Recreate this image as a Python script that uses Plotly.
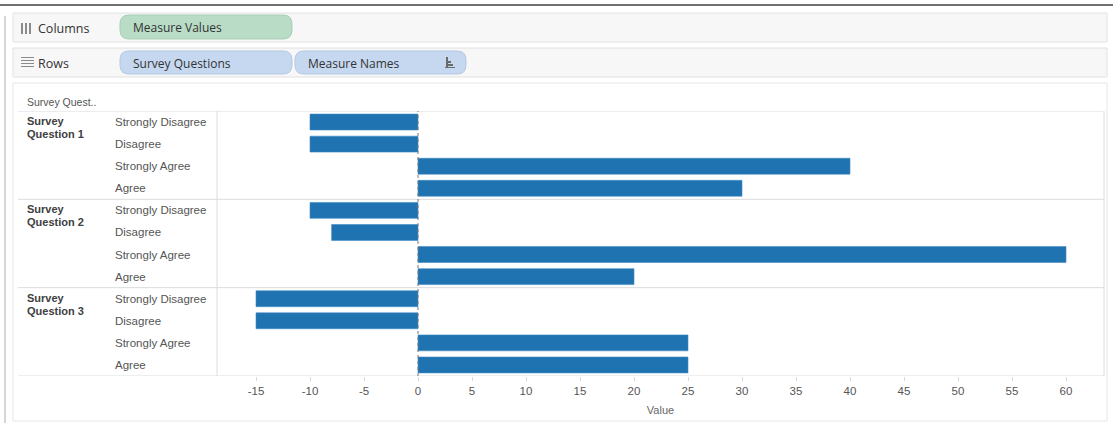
import plotly.graph_objects as go

# ---------------- data ----------------
questions = ["Survey Question 1", "Survey Question 2", "Survey Question 3"]
measures = ["Strongly Disagree", "Disagree", "Strongly Agree", "Agree"]
q1_values = [-10, -10, 40, 30]
q2_values = [-10, -8, 60, 20]
q3_values = [-15, -15, 25, 25]
tick_values = [-15, -10, -5, 0, 5, 10, 15, 20, 25, 30, 35, 40, 45, 50, 55, 60]
tick_labels = [str(v) for v in tick_values]

all_values = [q1_values, q2_values, q3_values]

# ---------------- layout helpers (pixel -> paper) ----------------
W, H = 1113, 423
L, R, T, B = 217, 1104, 111, 376


def px(x):
    return (x - L) / (R - L)


def py(y):
    return (B - y) / (B - T)


def rrect_path(x0, y0, x1, y1, r):
    pts = [
        ("M", [(x0 + r, y0)]),
        ("L", [(x1 - r, y0)]),
        ("Q", [(x1, y0), (x1, y0 + r)]),
        ("L", [(x1, y1 - r)]),
        ("Q", [(x1, y1), (x1 - r, y1)]),
        ("L", [(x0 + r, y1)]),
        ("Q", [(x0, y1), (x0, y1 - r)]),
        ("L", [(x0, y0 + r)]),
        ("Q", [(x0, y0), (x0 + r, y0)]),
    ]
    s = ""
    for cmd, p in pts:
        s += cmd + " " + " ".join(f"{px(a):.5f},{py(b):.5f}" for a, b in p) + " "
    return s + "Z"


shapes = []
annotations = []


def rect(x0, y0, x1, y1, fill, line="rgba(0,0,0,0)", lw=1):
    shapes.append(dict(type="rect", xref="paper", yref="paper",
                       x0=px(x0), x1=px(x1), y0=py(y1), y1=py(y0),
                       fillcolor=fill, line=dict(color=line, width=lw), layer="below"))


def pill(x0, y0, x1, y1, fill, line):
    shapes.append(dict(type="path", xref="paper", yref="paper",
                       path=rrect_path(x0, y0, x1, y1, 9),
                       fillcolor=fill, line=dict(color=line, width=1), layer="below"))


def text(x, y, s, size=12, color="#333", family="Open Sans", xanchor="left", bold=False):
    annotations.append(dict(xref="paper", yref="paper", x=px(x), y=py(y),
                            text=f"<b>{s}</b>" if bold else s, showarrow=False,
                            xanchor=xanchor, yanchor="middle",
                            font=dict(size=size, color=color, family=family)))


# ---------- Tableau frame ----------
shapes.append(dict(type="line", xref="paper", yref="paper", x0=px(0), x1=px(W),
                   y0=py(5), y1=py(5), line=dict(color="#707070", width=2)))
shapes.append(dict(type="line", xref="paper", yref="paper", x0=px(5), x1=px(5),
                   y0=py(16), y1=py(423), line=dict(color="#d6d6d6", width=2)))
rect(13, 13, 1107, 42, "#f7f7f7", "#e2e2e2")
rect(13, 48, 1107, 77, "#f7f7f7", "#e2e2e2")
rect(13, 83, 1107, 421, "#ffffff", "#e6e6e6")

# shelf icons
for i in range(3):
    rect(21 + i * 4, 23, 23 + i * 4, 34, "#8a8a8a")
for i in range(4):
    rect(21, 57 + i * 3, 34, 58 + i * 3, "#8a8a8a")
text(36, 28, "Columns", size=12.5)
text(36, 63, "Rows", size=12.5)

# pills
pill(120, 15, 292, 39, "#b8dcc6", "#a9cdb7")
text(131, 27, "Measure Values", size=12)
pill(120, 51, 292, 74, "#c6d8f0", "#b3c8e4")
text(131, 63, "Survey Questions", size=12)
pill(295, 51, 466, 74, "#c6d8f0", "#b3c8e4")
text(306, 63, "Measure Names", size=12)
# sort icon
rect(446, 57, 448, 67, "#6a6a6a")
rect(448, 61, 451, 63, "#6a6a6a")
rect(448, 64, 453, 66, "#6a6a6a")
rect(445, 67, 455, 68, "#6a6a6a")

# header label
text(25, 102, "Survey Quest..", size=10.5, color="#555", family="Liberation Sans")

# ---------- bars ----------
ys, xs = [], []
for qi, vals in enumerate(all_values):
    for mi, v in enumerate(vals):
        ys.append(qi * len(measures) + mi)
        xs.append(v)

fig = go.Figure(go.Bar(
    x=xs, y=ys, orientation="h", width=0.72,
    marker=dict(color="#1f73b0", line=dict(color="#3f8cc6", width=0.6)),
    hoverinfo="x",
))

n_rows = len(questions) * len(measures)

# row labels
for qi, q in enumerate(questions):
    words = q.rsplit(" ", 2)
    top = qi * len(measures) - 0.5
    annotations.append(dict(xref="paper", yref="y", x=px(25), y=top, yshift=-10,
                            text="<b>Survey</b>", showarrow=False, xanchor="left",
                            yanchor="middle",
                            font=dict(size=11, color="#404040", family="Liberation Sans")))
    annotations.append(dict(xref="paper", yref="y", x=px(25), y=top, yshift=-23,
                            text=f"<b>{words[1]} {words[2]}</b>", showarrow=False,
                            xanchor="left", yanchor="middle",
                            font=dict(size=11, color="#404040", family="Liberation Sans")))
    for mi, m in enumerate(measures):
        annotations.append(dict(xref="paper", yref="y", x=px(113),
                                y=qi * len(measures) + mi, text=m, showarrow=False,
                                xanchor="left", yanchor="middle",
                                font=dict(size=11.5, color="#555", family="Liberation Sans")))
    # separator lines
    shapes.append(dict(type="line", xref="paper", yref="y", x0=px(18), x1=1,
                       y0=top, y1=top, line=dict(color="#dcdcdc", width=1)))
shapes.append(dict(type="line", xref="paper", yref="y", x0=px(18), x1=1,
                   y0=n_rows - 0.5, y1=n_rows - 0.5, line=dict(color="#dcdcdc", width=1)))
# pane left / right edges
shapes.append(dict(type="line", xref="paper", yref="paper", x0=0, x1=0, y0=0, y1=1,
                   line=dict(color="#dcdcdc", width=1)))
shapes.append(dict(type="line", xref="paper", yref="paper", x0=1, x1=1, y0=0, y1=1,
                   line=dict(color="#dcdcdc", width=1)))
# zero line (dotted)
shapes.append(dict(type="line", xref="x", yref="paper", x0=0, x1=0, y0=0, y1=1,
                   line=dict(color="#777", width=1, dash="dot"), layer="above"))

fig.update_layout(
    width=W, height=H,
    margin=dict(l=L, r=W - R, t=T, b=H - B, pad=0),
    paper_bgcolor="white", plot_bgcolor="rgba(0,0,0,0)",
    showlegend=False,
    shapes=shapes, annotations=annotations,
    xaxis=dict(range=[(L - 418) / 10.8, (R - 418) / 10.8],
               tickvals=tick_values, ticktext=tick_labels,
               ticks="outside", ticklen=4, tickcolor="#d8d8d8",
               showgrid=False, zeroline=False, showline=False,
               tickfont=dict(size=11.5, color="#555", family="Liberation Sans"),
               title=dict(text="Value", standoff=10,
                          font=dict(size=11, color="#666", family="Liberation Sans"))),
    yaxis=dict(range=[n_rows - 0.5, -0.5], showticklabels=False, showgrid=False,
               zeroline=False, showline=False, ticks=""),
)

fig.write_html("out.html", config={"displayModeBar": False},
               post_script="document.body.style.margin='0';document.body.style.overflow='hidden';")
